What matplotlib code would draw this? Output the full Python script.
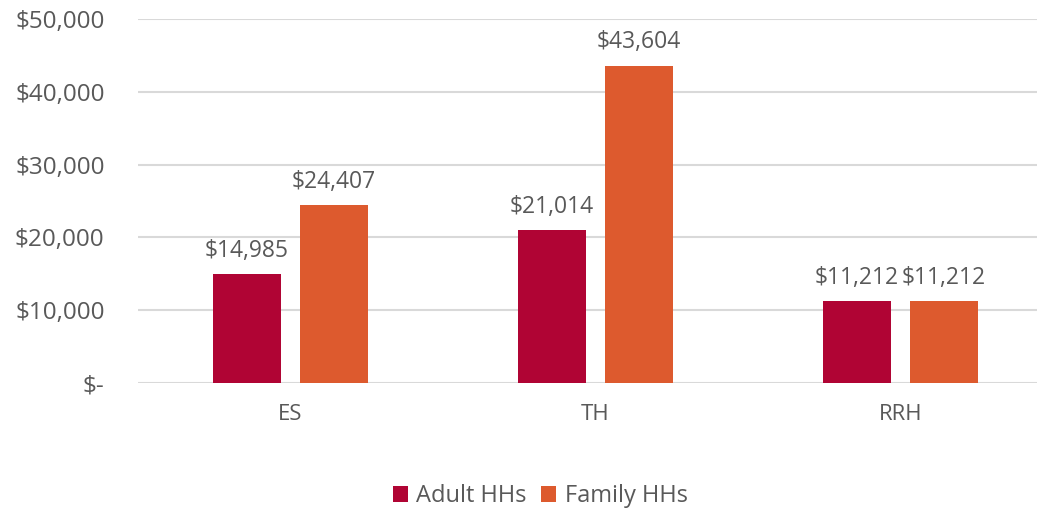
import matplotlib.pyplot as plt
import numpy as np
from matplotlib.ticker import FuncFormatter

categories = ["ES", "TH", "RRH"]
adult_hhs = [14985, 21014, 11212]
family_hhs = [24407, 43604, 11212]
series_names = ["Adult HHs", "Family HHs"]
colors = ["#B00434", "#DD5A2E"]
text_color = "#595959"

plt.rcParams['font.family'] = ['Open Sans', 'DejaVu Sans']

fig = plt.figure(figsize=(10.37, 5.13), dpi=100)
ax = fig.add_axes([0.133, 0.2534, 0.867, 0.7096])

x = np.arange(len(categories))
width = 0.223
offset = 0.143

for vals, name, col, sgn in zip([adult_hhs, family_hhs], series_names, colors, [-1, 1]):
    bars = ax.bar(x + sgn * offset, vals, width, color=col, label=name, zorder=3)
    for b, v in zip(bars, vals):
        ax.annotate(f"${v:,}", (b.get_x() + b.get_width() / 2, v),
                    xytext=(0, 8), textcoords="offset points",
                    ha="center", va="bottom", fontsize=16.5, color=text_color)

ax.set_xlim(-0.5, 2.448)
ax.set_ylim(0, 50000)
ax.set_yticks(np.arange(0, 50001, 10000))
ax.yaxis.set_major_formatter(FuncFormatter(lambda v, p: "$-" if v == 0 else f"${v:,.0f}"))
ax.set_xticks(x)
ax.set_xticklabels(categories)
ax.tick_params(axis="y", length=0, labelsize=17.5, labelcolor=text_color, pad=24)
ax.tick_params(axis="x", length=0, labelsize=16, labelcolor=text_color, pad=15)
ax.grid(axis="y", color="#D9D9D9", linewidth=1.5, zorder=0)
for s in ax.spines.values():
    s.set_visible(False)

leg = fig.legend(loc="center", bbox_to_anchor=(0.521, 0.033), ncol=2, frameon=False,
                 fontsize=17, handlelength=0.65, handleheight=0.65, handletextpad=0.35,
                 columnspacing=0.6)
for t in leg.get_texts():
    t.set_color(text_color)

fig.savefig("out.png", dpi=100)
